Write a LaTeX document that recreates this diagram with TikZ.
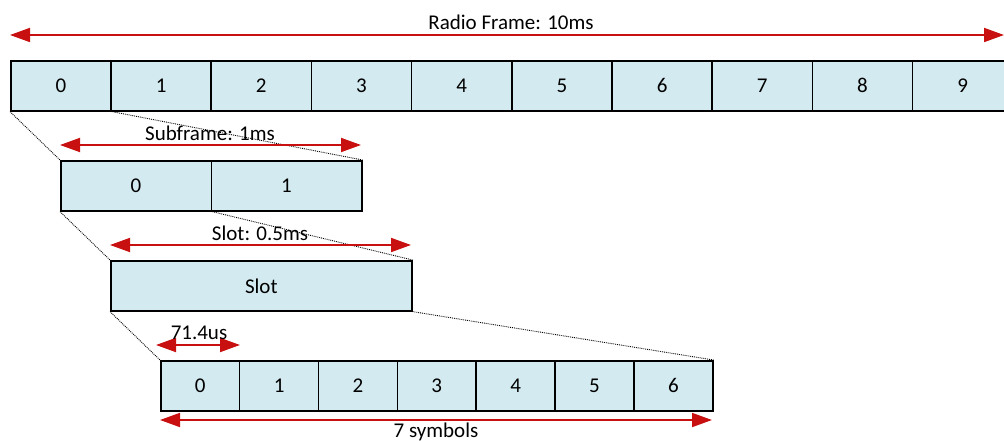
\documentclass[tikz,border=0pt]{standalone}
\usepackage{fontspec}
\setmainfont{Carlito}
\usetikzlibrary{arrows.meta}
\definecolor{cellblue}{RGB}{211,234,240}
\definecolor{arrred}{RGB}{200,16,16}
\begin{document}
\begin{tikzpicture}[x=1pt,y=-1pt,
  every node/.style={font=\fontsize{21}{25}\selectfont},
  cell/.style={draw=black,fill=cellblue,line width=1.6pt,inner sep=0pt,minimum height=50pt,anchor=north west},
  dim/.style={draw=arrred,line width=1.8pt,{Triangle[length=20pt,width=14pt]}-{Triangle[length=20pt,width=14pt]}},
  zoomline/.style={draw=black,line width=0.9pt,densely dotted},
  lbl/.style={inner sep=0pt,anchor=center}]
\useasboundingbox (0,0) rectangle (1004,441);
\clip (0,0) rectangle (1004,441);
% Radio frame
\foreach \i in {0,...,9}{
  \node[cell,minimum width=100.2pt] (f\i) at ({10+100.2*\i},60) {\i};
}
% Subframe
\node[cell,minimum width=150.5pt] (s0) at (60,160) {0};
\node[cell,minimum width=150.5pt] (s1) at (210.5,160) {1};
% Slot
\node[cell,minimum width=301pt] (slot) at (110,260) {Slot};
% Symbols
\foreach \i in {0,...,6}{
  \node[cell,minimum width=78.86pt] (y\i) at ({160+78.86*\i},360) {\i};
}
% zoom lines
\draw[zoomline] (f0.south west) -- (s0.north west);
\draw[zoomline] (f0.south east) -- (s1.north east);
\draw[zoomline] (s0.south west) -- (slot.north west);
\draw[zoomline] (s0.south east) -- (slot.north east);
\draw[zoomline] (slot.south west) -- (y0.north west);
\draw[zoomline] (slot.south east) -- (y6.north east);
% dimension arrows
\coordinate (ra) at (10,35);
\coordinate (rb) at (1004,35);
\draw[dim] (ra) -- (rb);
\node[lbl] (rl) at (511,22) {Radio Frame: 10ms};
\coordinate (sa) at (60,145);
\coordinate (sb) at (361,145);
\draw[dim] (sa) -- (sb);
\node[lbl] (sl) at (210,133) {Subframe: 1ms};
\coordinate (ta) at (110,245);
\coordinate (tb) at (411,245);
\draw[dim] (ta) -- (tb);
\node[lbl] (tl) at (260,233) {Slot: 0.5ms};
\coordinate (ua) at (156,345);
\coordinate (ub) at (240,345);
\draw[dim] (ua) -- (ub);
\node[lbl] (ul) at (199,333) {71.4us};
\coordinate (va) at (160,420);
\coordinate (vb) at (712,420);
\draw[dim] (va) -- (vb);
\node[lbl] (vl) at (436,432) {7 symbols};
\end{tikzpicture}
\end{document}
